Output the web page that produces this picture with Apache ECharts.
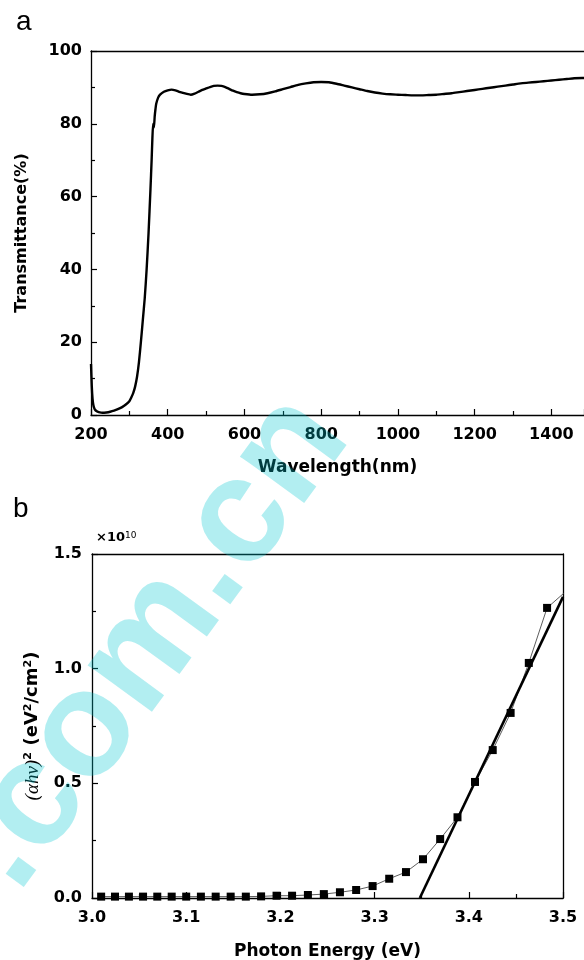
<!DOCTYPE html>
<html>
<head>
<meta charset="utf-8">
<script src="https://cdn.jsdelivr.net/npm/echarts@6/dist/echarts.min.js"></script>
<style>
  html, body { margin: 0; padding: 0; background: #fff; }
  #chart { width: 584px; height: 960px; }
</style>
</head>
<body>
<div id="chart"></div>
<script>
// (a) transmittance spectrum
const wavelength = [200,202,204,206,208,210,215,220,230,240,250,260,270,280,290,300,305,310,315,320,325,330,335,340,345,350,355,358,360,362,364,366,368,370,375,380,390,400,410,420,430,440,450,460,470,480,490,500,510,520,530,540,550,560,570,580,590,600,620,640,660,680,700,720,740,760,780,800,820,840,860,880,900,920,940,960,980,1000,1020,1040,1060,1080,1100,1120,1140,1160,1180,1200,1220,1240,1260,1280,1300,1320,1340,1360,1380,1400,1420,1440,1460,1480,1485];
const transmittance = [14,8,4.5,2.8,2.0,1.5,1.0,0.8,0.6,0.7,0.9,1.2,1.6,2.1,2.8,3.8,4.8,6.0,7.8,10.5,14.5,20,26,32,40,50,62,70,76,80,79,82,84,85.5,87.2,88,88.8,89.2,89.4,89.2,88.8,88.5,88.2,88.0,88.3,88.8,89.3,89.7,90.1,90.4,90.5,90.4,90.1,89.6,89.1,88.7,88.4,88.2,88.0,88.1,88.4,88.9,89.5,90.1,90.7,91.1,91.4,91.5,91.4,91.0,90.5,90.0,89.5,89.0,88.6,88.3,88.1,88.0,87.9,87.8,87.8,87.9,88.0,88.2,88.4,88.7,89.0,89.3,89.6,89.9,90.2,90.5,90.8,91.1,91.3,91.5,91.7,91.9,92.1,92.3,92.5,92.6,92.6];

// (b) Tauc plot, (alpha h nu)^2 in units of 1e10
const photonEnergy = [3.0097,3.0244,3.0392,3.0542,3.0693,3.0846,3.1000,3.1156,3.1313,3.1472,3.1633,3.1795,3.1959,3.2124,3.2292,3.2461,3.2632,3.2804,3.2979,3.3155,3.3333,3.3514,3.3696,3.3880,3.4066,3.4254,3.4444,3.4637,3.4831,3.5028];
const ahv2 = [0.006,0.006,0.006,0.006,0.006,0.006,0.006,0.006,0.006,0.006,0.006,0.007,0.010,0.010,0.013,0.017,0.025,0.035,0.052,0.084,0.113,0.169,0.257,0.352,0.506,0.645,0.807,1.025,1.265,1.336];
// linear fit of the absorption edge
const fitEnergy = [3.348, 3.5];
const fitValue = [0, 1.313];

const BLACK = "#000";
const SANS = "DejaVu Sans, Verdana, sans-serif";
const labelFont = { color: BLACK, fontSize: 16, fontWeight: "bold", fontFamily: SANS };

function frameAxis(gridIndex, position) {
  return {
    gridIndex: gridIndex,
    type: "value",
    position: position,
    axisLine: { show: true, onZero: false, lineStyle: { color: BLACK, width: 1.3 } },
    axisTick: { show: false },
    axisLabel: { show: false },
    splitLine: { show: false }
  };
}

function tickStyle() {
  return {
    axisLine: { show: true, onZero: false, lineStyle: { color: BLACK, width: 1.3 } },
    axisTick: { show: true, inside: true, length: 6, lineStyle: { color: BLACK, width: 1.2 } },
    minorTick: { show: true, splitNumber: 2, length: 4, lineStyle: { color: BLACK, width: 1.2 } },
    splitLine: { show: false }
  };
}

const chart = echarts.init(document.getElementById("chart"), null, { renderer: "canvas" });

const option = {
  backgroundColor: "#fff",
  animation: false,
  title: [
    { text: "a", left: 11, top: 3, textStyle: { fontSize: 28, fontWeight: "normal", color: BLACK, fontFamily: "Liberation Sans, Arial, sans-serif" } },
    { text: "b", left: 8, top: 490, textStyle: { fontSize: 28, fontWeight: "normal", color: BLACK, fontFamily: "Liberation Sans, Arial, sans-serif" } }
  ],
  grid: [
    { left: 91, top: 51, right: 0, bottom: 545, containLabel: false, outerBoundsMode: "none" },
    { left: 92, top: 554, right: 21, bottom: 62, containLabel: false, outerBoundsMode: "none" }
  ],
  xAxis: [
    Object.assign(tickStyle(), {
      gridIndex: 0,
      type: "value",
      min: 200,
      max: 1485,
      interval: 200,
      name: "Wavelength(nm)",
      nameLocation: "middle",
      nameGap: 44,
      nameTextStyle: Object.assign({}, labelFont, { fontSize: 17 }),
      axisLabel: Object.assign({}, labelFont, { margin: 12, showMaxLabel: false, formatter: v => String(v) })
    }),
    Object.assign(frameAxis(0, "top"), { min: 200, max: 1485 }),
    Object.assign(tickStyle(), {
      gridIndex: 1,
      type: "value",
      min: 3.0,
      max: 3.5,
      interval: 0.1,
      name: "Photon Energy (eV)",
      nameLocation: "middle",
      nameGap: 45,
      nameTextStyle: Object.assign({}, labelFont, { fontSize: 17 }),
      axisLabel: Object.assign({}, labelFont, { margin: 12, formatter: v => v.toFixed(1) })
    }),
    Object.assign(frameAxis(1, "top"), { min: 3.0, max: 3.5 })
  ],
  yAxis: [
    Object.assign(tickStyle(), {
      gridIndex: 0,
      type: "value",
      min: 0,
      max: 100,
      interval: 20,
      name: "Transmittance(%)",
      nameLocation: "middle",
      nameRotate: 90,
      nameGap: 61,
      nameTextStyle: Object.assign({}, labelFont, { fontSize: 16 }),
      axisLabel: Object.assign({}, labelFont, { margin: 9, formatter: v => String(v) })
    }),
    Object.assign(tickStyle(), {
      gridIndex: 1,
      type: "value",
      min: 0,
      max: 1.5,
      interval: 0.5,
      name: "{it|(αhν)}{sup|2}  {b|(eV}{sup|2}{b|/cm}{sup|2}{b|)}",
      nameLocation: "middle",
      nameRotate: 90,
      nameGap: 50,
      nameTextStyle: {
        rich: {
          it: { fontSize: 19, fontStyle: "italic", fontFamily: "Liberation Serif, Times New Roman, serif", color: BLACK },
          sup: { fontSize: 11, fontWeight: "bold", fontFamily: SANS, color: BLACK, verticalAlign: "top" },
          b: { fontSize: 18, fontWeight: "bold", fontFamily: SANS, color: BLACK }
        }
      },
      axisLabel: Object.assign({}, labelFont, { margin: 10, formatter: v => v.toFixed(1) })
    }),
    Object.assign(frameAxis(1, "right"), { min: 0, max: 1.5 })
  ],
  graphic: [
    {
      type: "text",
      left: 96,
      top: 531,
      style: {
        text: "{m|×10}{s|10}",
        rich: {
          m: { fontSize: 13, fontWeight: "bold", fontFamily: SANS, fill: BLACK },
          s: { fontSize: 9, fontFamily: SANS, fill: BLACK, verticalAlign: "top" }
        }
      }
    },
    {
      type: "text",
      x: 45,
      y: 915,
      rotation: 0.94,
      z: 100,
      silent: true,
      style: {
        text: ".com.cn",
        fill: "rgba(0, 200, 210, 0.3)",
        font: "bold 150px Liberation Sans, Arial, sans-serif",
        textAlign: "left",
        textVerticalAlign: "bottom"
      }
    }
  ],
  series: [
    {
      name: "Transmittance",
      type: "line",
      xAxisIndex: 0,
      yAxisIndex: 0,
      data: wavelength.map((w, i) => [w, transmittance[i]]),
      showSymbol: false,
      smooth: 0.2,
      lineStyle: { color: BLACK, width: 2.4 },
      silent: true
    },
    {
      name: "(αhν)²",
      type: "line",
      xAxisIndex: 2,
      yAxisIndex: 1,
      data: photonEnergy.map((e, i) => [e, ahv2[i]]),
      symbol: "rect",
      symbolSize: 8,
      itemStyle: { color: BLACK },
      lineStyle: { color: "#333", width: 0.8 },
      clip: true,
      silent: true
    },
    {
      name: "fit",
      type: "line",
      xAxisIndex: 2,
      yAxisIndex: 1,
      data: fitEnergy.map((e, i) => [e, fitValue[i]]),
      showSymbol: false,
      lineStyle: { color: BLACK, width: 2.6 },
      silent: true
    }
  ]
};

chart.setOption(option);
</script>
</body>
</html>
